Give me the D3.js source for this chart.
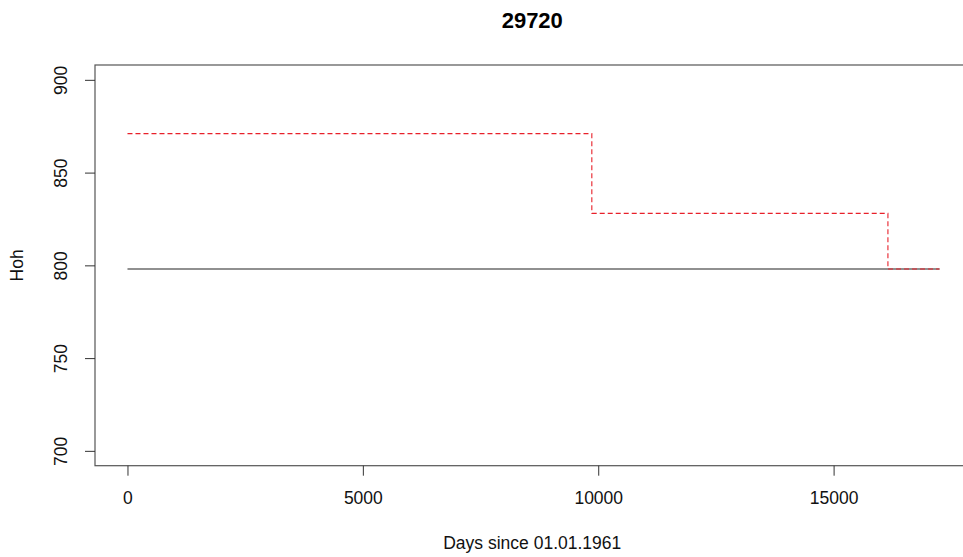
<!DOCTYPE html>
<html>
<head>
<meta charset="utf-8">
<script src="https://cdn.jsdelivr.net/npm/d3@7"></script>
<style>
  html, body { margin: 0; padding: 0; background: #fff; }
  svg { display: block; font-family: "Liberation Sans", Arial, sans-serif; }
</style>
</head>
<body>
<svg id="chart" width="963" height="557"></svg>
<script>
// Station 29720: station height over time (days since 01.01.1961)
const title = "29720";
const xLabel = "Days since 01.01.1961";
const yLabel = "Hoh";

// Reference height (solid black)
const refDays = [0, 17250];
const refHoh = [798, 798];

// Recorded height, step changes (red dashed)
const stepDays = [0, 9864, 16154, 17250];
const stepHoh = [871, 828, 798, 798];

const xTicks = [0, 5000, 10000, 15000];
const yTicks = [700, 750, 800, 850, 900];

const svg = d3.select("#chart");
const box = { left: 95, top: 65, right: 972, bottom: 465.7 };
const labelSize = 17.5;

// Axis limits padded by 4% like an R base plot
const xMin = 0, xMax = 17250;
const xPad = (xMax - xMin) * 0.04;
const x = d3.scaleLinear().domain([xMin - xPad, xMax + xPad]).range([box.left, box.right]);
const y = d3.scaleLinear().domain([700 - 8, 900 + 8]).range([box.bottom, box.top]);

// Plot frame
svg.append("rect")
  .attr("x", box.left).attr("y", box.top)
  .attr("width", box.right - box.left).attr("height", box.bottom - box.top)
  .attr("fill", "none").attr("stroke", "#555").attr("stroke-width", 1.2);

// X axis
const xAxis = svg.append("g")
  .attr("transform", `translate(0,${box.bottom})`)
  .call(d3.axisBottom(x).tickValues(xTicks).tickSize(10).tickPadding(16).tickFormat(d3.format("d")));
xAxis.select(".domain").remove();
xAxis.selectAll("line").attr("stroke", "#333");
xAxis.selectAll("text").attr("font-size", labelSize).attr("fill", "#111")
  .attr("font-family", "Liberation Sans, Arial, sans-serif");

// Y axis with rotated labels
const yAxis = svg.append("g")
  .attr("transform", `translate(${box.left},0)`)
  .call(d3.axisLeft(y).tickValues(yTicks).tickSize(10).tickFormat(d3.format("d")));
yAxis.select(".domain").remove();
yAxis.selectAll("line").attr("stroke", "#333");
yAxis.selectAll("text")
  .attr("font-size", labelSize).attr("fill", "#111")
  .attr("font-family", "Liberation Sans, Arial, sans-serif")
  .attr("x", null).attr("dy", null)
  .attr("text-anchor", "middle")
  .attr("transform", "translate(-32.5,0) rotate(-90)")
  .attr("dominant-baseline", "middle");

// Reference line
const refLine = d3.line().x(d => x(d[0])).y(d => y(d[1]));
svg.append("path")
  .datum(d3.zip(refDays, refHoh))
  .attr("d", refLine)
  .attr("fill", "none").attr("stroke", "#222").attr("stroke-width", 1.1);

// Step line
const stepLine = d3.line().x(d => x(d[0])).y(d => y(d[1])).curve(d3.curveStepAfter);
svg.append("path")
  .datum(d3.zip(stepDays, stepHoh))
  .attr("d", stepLine)
  .attr("fill", "none").attr("stroke", "#e8202a").attr("stroke-width", 1.1)
  .attr("stroke-dasharray", "5,3");

// Titles
svg.append("text")
  .attr("x", (box.left + 969.5) / 2).attr("y", 28)
  .attr("text-anchor", "middle").attr("font-size", 22).attr("font-weight", "bold")
  .attr("fill", "#000").text(title);

svg.append("text")
  .attr("x", (box.left + 969.5) / 2).attr("y", 549)
  .attr("text-anchor", "middle").attr("font-size", labelSize).attr("fill", "#111")
  .text(xLabel);

svg.append("text")
  .attr("transform", `translate(18.5,${(box.top + box.bottom) / 2}) rotate(-90)`)
  .attr("text-anchor", "middle").attr("dominant-baseline", "middle")
  .attr("font-size", labelSize).attr("fill", "#111")
  .text(yLabel);
</script>
</body>
</html>
